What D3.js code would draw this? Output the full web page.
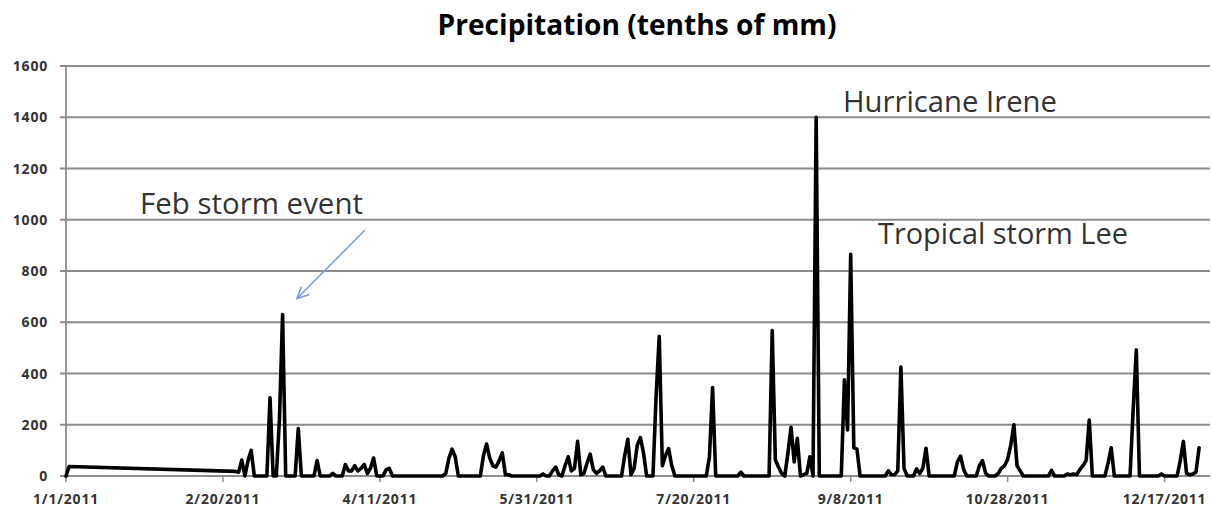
<!DOCTYPE html>
<html>
<head>
<meta charset="utf-8">
<script src="https://cdn.jsdelivr.net/npm/d3@7"></script>
<style>
  html, body { margin: 0; padding: 0; background: #fff; }
  svg { display: block; }
</style>
</head>
<body>
<svg id="chart" width="1212" height="510"></svg>
<script>
// ---- data (day offset from 1 Jan 2011, precipitation in tenths of mm) ----
const dayOfYear = [
  0,1,54,55,56,57,58,59,60,64,65,66,67,68,69,70,73,74,75,79,80,81,84,85,86,
  88,89,90,91,92,93,94,95,96,97,98,99,101,102,103,104,
  120,121,122,123,124,125,132,133,134,135,136,137,138,139,140,141,142,
  151,152,153,154,155,156,157,158,159,160,161,162,163,164,165,166,167,168,169,170,171,172,
  177,178,179,180,181,182,183,184,185,187,188,189,190,191,192,193,194,
  204,205,206,207,214,215,216,224,225,226,227,228,229,230,231,232,233,234,
  236,237,238,239,240,247,248,249,250,251,252,253,
  261,262,263,264,265,266,267,268,270,271,272,273,274,275,283,284,285,286,287,
  290,291,292,293,294,296,297,298,299,300,301,302,303,304,305,
  313,314,315,318,319,320,321,322,323,324,325,326,327,331,332,333,334,
  339,340,341,342,348,349,350,354,355,356,357,358,359,360,361
];
const precip = [
  0,37,18,15,62,0,60,100,0,0,305,0,0,220,630,0,0,185,0,0,60,0,0,10,0,
  0,45,20,20,40,20,30,45,10,30,70,0,0,25,30,0,
  0,10,70,105,75,0,0,80,125,70,40,35,60,90,5,5,0,
  0,8,0,0,20,35,5,0,40,75,20,30,135,5,10,50,85,25,10,20,35,0,
  0,80,143,5,30,120,150,90,0,0,310,545,40,80,107,40,0,
  0,75,345,0,0,15,0,0,568,62,35,10,0,90,190,55,147,0,
  10,75,0,1400,0,0,375,180,865,110,105,0,
  0,20,5,5,20,425,30,0,0,28,10,30,108,0,0,55,78,25,0,
  0,40,60,10,0,0,10,30,40,65,120,200,40,20,0,
  0,22,0,0,8,5,8,5,25,40,60,218,0,0,50,110,0,
  0,260,492,0,0,8,0,0,60,135,10,5,8,15,110
];
const xTickDays = [0,50,100,150,200,250,300,350];
const yTicks = [0,200,400,600,800,1000,1200,1400,1600];
const titleText = "Precipitation (tenths of mm)";
const notes = ["Feb storm event", "Hurricane Irene", "Tropical storm Lee"];

// ---- layout ----
const svg = d3.select("#chart");
const start = new Date(2011, 0, 1);
const end = new Date(2011, 11, 31);
const x = d3.scaleTime().domain([start, end]).range([66, 1208.5]);
const y = d3.scaleLinear().domain([0, 1600]).range([476, 66]);
const gridColor = "#8c8c8c";
const labelFont = "'Open Sans', 'Liberation Sans', sans-serif";

function fitWidth(sel, target) {
  const w = sel.node().getComputedTextLength();
  const fs = parseFloat(sel.attr("font-size"));
  sel.attr("font-size", (fs * target / w).toFixed(2));
}

// gridlines
svg.append("g").selectAll("line").data(yTicks).join("line")
  .attr("x1", 60).attr("x2", 1210)
  .attr("y1", d => y(d)).attr("y2", d => y(d))
  .attr("stroke", gridColor).attr("stroke-width", 1.8);

// y axis line
svg.append("line").attr("x1", 66).attr("x2", 66).attr("y1", y(1600)).attr("y2", y(0))
  .attr("stroke", gridColor).attr("stroke-width", 1.8);

// y labels
svg.append("g").selectAll("text").data(yTicks).join("text")
  .attr("x", 48).attr("y", d => y(d)).attr("dy", "0.36em")
  .attr("text-anchor", "end")
  .attr("font-family", labelFont).attr("font-weight", "bold").attr("font-size", 14)
  .attr("letter-spacing", "0.8px")
  .attr("fill", "#333").text(d => d);

// x ticks and labels
const xTickDates = xTickDays.map(d => d3.timeDay.offset(start, d));
const fmt = d3.timeFormat("%-m/%-d/%Y");
svg.append("g").selectAll("line").data(xTickDates).join("line")
  .attr("x1", d => x(d)).attr("x2", d => x(d))
  .attr("y1", y(0)).attr("y2", y(0) + 6)
  .attr("stroke", gridColor).attr("stroke-width", 1.5);
svg.append("g").selectAll("text").data(xTickDates).join("text")
  .attr("x", d => x(d)).attr("y", 499).attr("dy", "0.36em")
  .attr("text-anchor", "middle")
  .attr("font-family", labelFont).attr("font-weight", "bold").attr("font-size", 14)
  .attr("letter-spacing", "0.8px")
  .attr("fill", "#333").text(d => fmt(d));

// data line
const pts = dayOfYear.map((d, i) => ({ date: d3.timeDay.offset(start, d), v: precip[i] }));
svg.append("path").datum(pts)
  .attr("fill", "none").attr("stroke", "#000").attr("stroke-width", 3.6)
  .attr("stroke-linejoin", "round").attr("stroke-linecap", "round")
  .attr("d", d3.line().x(d => x(d.date)).y(d => y(d.v)));

// title
const title = svg.append("text").attr("x", 637).attr("y", 35)
  .attr("text-anchor", "middle")
  .attr("font-family", labelFont).attr("font-weight", "bold").attr("font-size", 24)
  .attr("fill", "#000").text(titleText);
fitWidth(title, 399);

// annotations
const noteFont = "'Open Sans', 'Liberation Sans', sans-serif";
const n1 = svg.append("text").attr("x", 140).attr("y", 214)
  .attr("font-family", noteFont).attr("font-size", 26).attr("fill", "#333").text(notes[0]);
fitWidth(n1, 223);
const n2 = svg.append("text").attr("x", 843).attr("y", 112)
  .attr("font-family", noteFont).attr("font-size", 26).attr("fill", "#333").text(notes[1]);
fitWidth(n2, 214);
const n3 = svg.append("text").attr("x", 878).attr("y", 244)
  .attr("font-family", noteFont).attr("font-size", 26).attr("fill", "#333").text(notes[2]);
fitWidth(n3, 250);

// arrow
const arrowColor = "#7b9ed6";
svg.append("line").attr("x1", 365).attr("y1", 230).attr("x2", 297).attr("y2", 298.5)
  .attr("stroke", arrowColor).attr("stroke-width", 1.6);
svg.append("polyline").attr("points", "301.5,286.5 297,298.5 309.5,294.5")
  .attr("fill", "none").attr("stroke", arrowColor).attr("stroke-width", 1.6)
  .attr("stroke-linejoin", "miter");
</script>
</body>
</html>
